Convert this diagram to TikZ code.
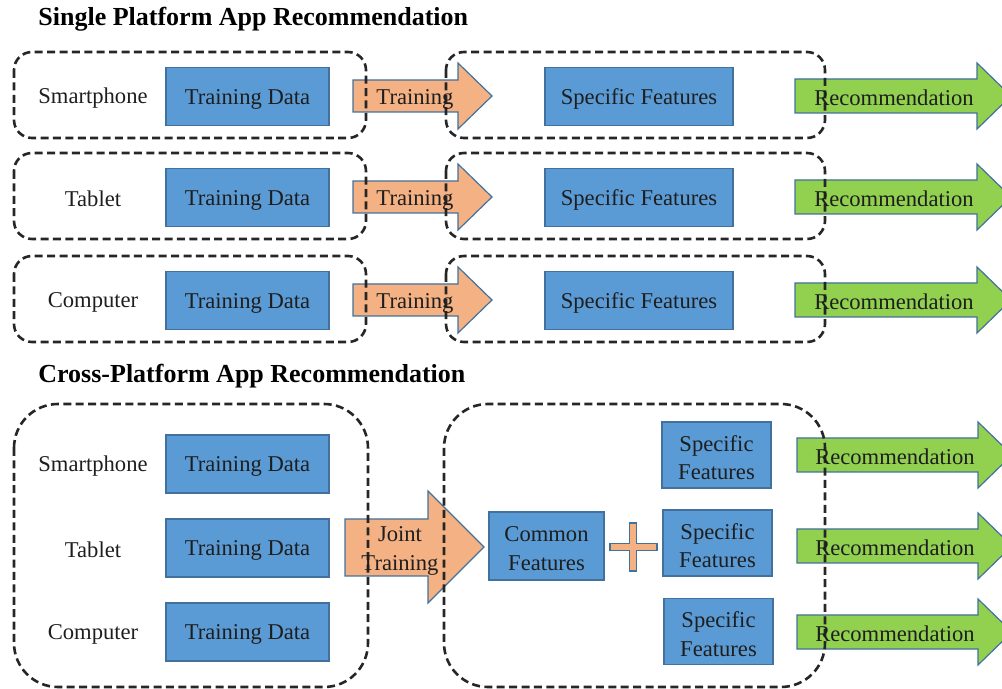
\documentclass[tikz,border=0pt]{standalone}
\usepackage{fontspec}
\setmainfont{Liberation Serif}
\usetikzlibrary{calc}
\usetikzlibrary{positioning}
\definecolor{boxblue}{HTML}{5B9BD5}
\definecolor{edgeblue}{HTML}{41719C}
\definecolor{trainorange}{HTML}{F4B183}
\definecolor{recgreen}{HTML}{92D050}
\definecolor{inkgray}{HTML}{1E1E1E}
\newcommand{\txtfont}{\fontsize{11.3}{14.3}\selectfont}
\newcommand{\dropline}[1]{\raisebox{-1.3pt}[\height][\depth]{#1}}
\begin{document}
\begin{tikzpicture}[x=0.5pt, y=-0.5pt,
    blk/.style={rectangle, draw=edgeblue, fill=boxblue, line width=0.6pt, inner sep=0pt, align=center, text=inkgray, font=\txtfont},
    lbl/.style={inner sep=0pt, align=center, text=inkgray, font=\txtfont},
    ttl/.style={anchor=base west, inner sep=0pt, font=\fontsize{13}{15}\selectfont\bfseries},
    grp/.style={draw=black!85, line width=1.3pt, dash pattern=on 4pt off 2.2pt},
    bigarrow/.style={draw=edgeblue, line width=0.6pt}]
    \useasboundingbox (0,0) rectangle (1002,689);
    \clip (0,0) rectangle (1002,689);
    % single platform
    \node[ttl] (single) at (38,26) {Single Platform App Recommendation};
    \foreach \dev/\y [count=\i] in {Smartphone/96, Tablet/197, Computer/300}
    {
        \draw[bigarrow, fill=trainorange] (353,{\y-16}) -- (458,{\y-16}) -- (458,{\y-33})
            -- (492,\y) -- (458,{\y+33}) -- (458,{\y+16}) -- (353,{\y+16}) -- cycle;
        \draw[bigarrow, fill=recgreen] (795,{\y-17}) -- (977,{\y-17}) -- (977,{\y-33})
            -- (1011,\y) -- (977,{\y+33}) -- (977,{\y+17}) -- (795,{\y+17}) -- cycle;
        \draw[grp, rounded corners=9pt] (14,{\y-44}) rectangle (366,{\y+42});
        \draw[grp, rounded corners=9pt] (446,{\y-44}) rectangle (825,{\y+42});
        \node[lbl] (dev\i) at (93,{\y+2}) {\dev};
        \node[blk, minimum width=81.5pt, minimum height=29pt] (data\i) at (247.5,{\y+0.5}) {\dropline{Training Data}};
        \node[lbl] (train\i) at (415,{\y+3}) {Training};
        \node[blk, minimum width=94pt, minimum height=29pt] (spec\i) at (639,{\y+0.5}) {\dropline{Specific Features}};
        \node[lbl] (rec\i) at (894,{\y+2}) {Recommendation};
    }
    % cross platform
    \node[ttl] (cross) at (38,383) {Cross-Platform App Recommendation};
    \draw[bigarrow, fill=trainorange] (345,519) -- (428,519) -- (428,491) -- (484,547)
        -- (428,603) -- (428,576) -- (345,576) -- cycle;
    \foreach \r in {455, 546, 632}
        \draw[bigarrow, fill=recgreen] (797,{\r-17}) -- (978,{\r-17}) -- (978,{\r-33})
            -- (1012,\r) -- (978,{\r+33}) -- (978,{\r+17}) -- (797,{\r+17}) -- cycle;
    \draw[grp, rounded corners=22pt] (14,404) rectangle (368,687);
    \draw[grp, rounded corners=22pt] (444,404) rectangle (825,687);
    \node[lbl] (joint) at (400,551) {Joint\\Training};
    \foreach \dev/\y [count=\i] in {Smartphone/464, Tablet/548, Computer/632}
    {
        \node[lbl] (cdev\i) at (93,{\y+2}) {\dev};
        \node[blk, minimum width=81.5pt, minimum height=29pt] (cdata\i) at (247.5,\y) {\dropline{Training Data}};
    }
    \node[blk, minimum width=57.5pt, minimum height=34pt] (common) at (546.5,546) {\dropline{Common}\\\dropline{Features}};
    \draw[bigarrow, fill=trainorange] (610,543.5) -- (629.5,543.5) -- (629.5,523) -- (636.5,523)
        -- (636.5,543.5) -- (657,543.5) -- (657,550.5) -- (636.5,550.5) -- (636.5,571)
        -- (629.5,571) -- (629.5,550.5) -- (610,550.5) -- cycle;
    \foreach \x/\y/\r [count=\i] in {716.5/455/455, 717.5/543/546, 718.5/631.5/632}
    {
        \node[blk, minimum width=54.5pt, minimum height=33pt] (cspec\i) at (\x,\y) {\dropline{Specific}\\\dropline{Features}};
        \node[lbl] (crec\i) at (895,{\r+2}) {Recommendation};
    }
\end{tikzpicture}
\end{document}
